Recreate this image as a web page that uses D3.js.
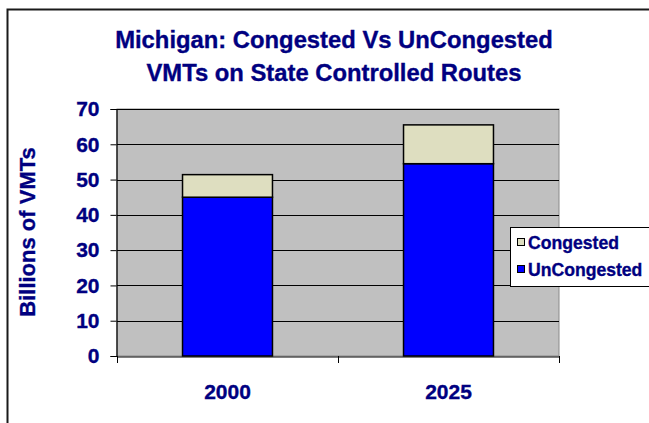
<!DOCTYPE html>
<html>
<head>
<meta charset="utf-8">
<script src="https://cdn.jsdelivr.net/npm/d3@7"></script>
<style>
  html, body { margin: 0; padding: 0; background: #fff; }
  svg { display: block; font-family: "Liberation Sans", Arial, sans-serif; font-weight: bold; }
  svg text { stroke: #000080; stroke-width: 0.35px; }
</style>
</head>
<body>
<svg id="chart" width="649" height="423"></svg>
<script>
const categories = ["2000", "2025"];
const unCongested = [45, 54.5];
const congested = [6.4, 11];
const seriesNames = ["Congested", "UnCongested"];
const yTicks = [0, 10, 20, 30, 40, 50, 60, 70];
const titleLines = ["Michigan: Congested Vs UnCongested", "VMTs on State Controlled Routes"];
const yLabel = "Billions of VMTs";

const navy = "#000080";
const colors = { Congested: "#DEDEC0", UnCongested: "#0000FF" };
const FONT = "'Liberation Sans', Arial, sans-serif";

const svg = d3.select("#chart");

// outer chart border (extends beyond the window)
svg.append("path")
  .attr("d", "M7.5,430 L7.5,9.5 L660,9.5")
  .attr("fill", "none").attr("stroke", "#1a1a1a").attr("stroke-width", 2);

const plot = { left: 117, right: 559, top: 109, bottom: 356 };

const x = d3.scaleBand().domain(categories).range([plot.left, plot.right]).padding(0);
const y = d3.scaleLinear().domain([0, 70]).range([plot.bottom, plot.top]);

// plot background
svg.append("rect")
  .attr("x", plot.left).attr("y", plot.top)
  .attr("width", plot.right - plot.left).attr("height", plot.bottom - plot.top)
  .attr("fill", "#C0C0C0").attr("stroke", "#8a8a8a").attr("stroke-width", 1);

// gridlines
svg.append("g").selectAll("line").data(yTicks.filter(t => t > 0)).join("line")
  .attr("x1", plot.left).attr("x2", plot.right)
  .attr("y1", d => Math.round(y(d)) + 0.5).attr("y2", d => Math.round(y(d)) + 0.5)
  .attr("stroke", "#000").attr("stroke-width", 1);

// stacked bars
const rows = categories.map((c, i) => ({ cat: c, UnCongested: unCongested[i], Congested: congested[i] }));
const stack = d3.stack().keys(["UnCongested", "Congested"]);
const stacked = stack(rows);
const barFrac = 0.407;
const bw = x.bandwidth() * barFrac;

svg.append("g").selectAll("g").data(stacked).join("g")
  .attr("fill", d => colors[d.key])
  .selectAll("rect").data(d => d).join("rect")
  .attr("x", d => x(d.data.cat) + (x.bandwidth() - bw) / 2)
  .attr("width", bw)
  .attr("y", d => y(d[1]))
  .attr("height", d => y(d[0]) - y(d[1]))
  .attr("stroke", "#000").attr("stroke-width", 1.5);

// y axis
const yAxis = svg.append("g")
  .attr("transform", `translate(${plot.left - 0.5},0)`)
  .call(d3.axisLeft(y).tickValues(yTicks).tickSize(6).tickPadding(11).tickFormat(d3.format("d")));
yAxis.select(".domain").attr("stroke", "#000").attr("stroke-width", 1.2);
yAxis.selectAll(".tick line").attr("stroke", "#000");
yAxis.selectAll("text").attr("fill", navy).attr("font-size", 21)
  .attr("font-family", FONT).attr("font-weight", "bold");

// x axis
const xAxis = svg.append("g")
  .attr("transform", `translate(0,${plot.bottom + 0.5})`)
  .call(d3.axisBottom(x).tickSize(0).tickPadding(28));
xAxis.select(".domain").attr("stroke", "#000").attr("stroke-width", 1.2);
xAxis.selectAll("text").attr("fill", navy).attr("font-size", 21)
  .attr("font-family", FONT).attr("font-weight", "bold");
// category boundary ticks
const bounds = categories.map(c => x(c)).concat([x(categories[categories.length - 1]) + x.bandwidth()]);
svg.append("g").selectAll("line").data(bounds).join("line")
  .attr("x1", d => Math.round(d) + 0.5).attr("x2", d => Math.round(d) + 0.5)
  .attr("y1", plot.bottom).attr("y2", plot.bottom + 7)
  .attr("stroke", "#000");

// title
svg.append("g").selectAll("text").data(titleLines).join("text")
  .attr("x", 334).attr("y", (d, i) => 48 + i * 33)
  .attr("text-anchor", "middle")
  .attr("fill", navy).attr("font-size", 23.8)
  .text(d => d);

// y label
svg.append("text")
  .attr("transform", "translate(35,232) rotate(-90)")
  .attr("text-anchor", "middle")
  .attr("fill", navy).attr("font-size", 22)
  .text(yLabel);

// legend
const lg = svg.append("g");
lg.append("rect").attr("x", 510.5).attr("y", 227.5).attr("width", 150).attr("height", 59)
  .attr("fill", "#fff").attr("stroke", "#000").attr("stroke-width", 1);
const items = lg.selectAll("g.item").data(seriesNames).join("g").attr("class", "item")
  .attr("transform", (d, i) => `translate(0,${i * 27})`);
items.append("rect").attr("x", 517.5).attr("y", 238.5).attr("width", 7).attr("height", 7)
  .attr("fill", d => colors[d]).attr("stroke", "#000").attr("stroke-width", 1);
items.append("text").attr("x", 528).attr("y", 248.5)
  .attr("fill", navy).attr("font-size", 17.6).text(d => d);
</script>
</body>
</html>
